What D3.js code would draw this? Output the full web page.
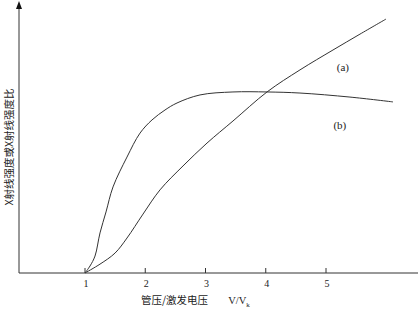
<!DOCTYPE html>
<html>
<head>
<meta charset="utf-8">
<script src="https://cdn.jsdelivr.net/npm/d3@7"></script>
<style>
  html, body { margin: 0; padding: 0; background: #fff; }
  #root { width: 418px; height: 310px; }
  text { fill: #222; }
  .num { font-family: "Liberation Serif", "DejaVu Serif", serif; }
  .cjk { font-family: "Noto Sans CJK SC", sans-serif; }
</style>
</head>
<body>
<div id="root"></div>
<script>
// ——— données (x en V/Vk, y en unités arbitraires 0–100)
const tickValues = [1, 2, 3, 4, 5];
const seriesNames = ["(a)", "(b)"];

const curveAx = [1.000, 1.249, 1.498, 1.697, 1.963, 2.245, 2.627, 3.025, 3.456, 4.021, 4.568, 5.116, 5.564, 5.996];
const curveAy = [0, 3.3, 7.4, 13.0, 21.9, 30.9, 39.8, 48.3, 56.5, 67.3, 75.5, 82.9, 88.8, 94.4];

const curveBx = [1.000, 1.083, 1.166, 1.249, 1.349, 1.465, 1.697, 1.913, 2.112, 2.328, 2.527, 2.909, 3.456, 4.021, 4.568, 5.398, 6.112];
const curveBy = [0, 2.6, 6.3, 14.9, 22.7, 32.0, 43.1, 52.0, 56.9, 60.6, 63.2, 66.2, 67.3, 67.3, 66.9, 65.4, 63.6];

const labelPos = [[5.28, 75.1], [5.23, 53.5]]; // position des étiquettes (a), (b)

const root = d3.select("#root");
const width = 418, height = 310;
const margin = { top: 4, right: 0, bottom: 37, left: 19 };
const innerW = width - margin.left - margin.right;
const innerH = height - margin.top - margin.bottom;

const svg = root.append("svg").attr("width", width).attr("height", height);
const g = svg.append("g").attr("transform", `translate(${margin.left},${margin.top})`);

// échelles : 1 → 66 px, 5 → 307 px
const x = d3.scaleLinear().domain([1, 5]).range([66, 307]);
const y = d3.scaleLinear().domain([0, 100]).range([innerH, 0]);

// axe X
const xAxis = g.append("g").attr("transform", `translate(0,${innerH})`);
xAxis.append("line")
  .attr("x1", 0).attr("x2", innerW)
  .attr("stroke", "#333").attr("stroke-width", 1);
xAxis.selectAll(".tick")
  .data(tickValues)
  .enter()
  .append("line")
  .attr("x1", d => x(d)).attr("x2", d => x(d))
  .attr("y1", 0).attr("y2", -5)
  .attr("stroke", "#333");
xAxis.selectAll(".tl")
  .data(tickValues)
  .enter()
  .append("text")
  .attr("class", "num")
  .attr("x", d => x(d) + 1)
  .attr("y", 14)
  .attr("text-anchor", "middle")
  .attr("font-size", 10)
  .text(d => d);

// axe Y avec flèche
g.append("line")
  .attr("x1", 0).attr("x2", 0)
  .attr("y1", innerH).attr("y2", 3)
  .attr("stroke", "#333").attr("stroke-width", 1);
g.append("path")
  .attr("d", "M0,-3L-3,5L3,5Z")
  .attr("fill", "#111");

// courbes
const line = d3.line()
  .x(d => x(d[0]))
  .y(d => y(d[1]))
  .curve(d3.curveCatmullRom.alpha(0.5));

const curves = [
  d3.zip(curveAx, curveAy),
  d3.zip(curveBx, curveBy)
];

g.selectAll(".curve")
  .data(curves)
  .enter()
  .append("path")
  .attr("d", line)
  .attr("fill", "none")
  .attr("stroke", "#333")
  .attr("stroke-width", 1);

// étiquettes (a) (b)
g.selectAll(".lab")
  .data(seriesNames)
  .enter()
  .append("text")
  .attr("class", "num")
  .attr("x", (d, i) => x(labelPos[i][0]))
  .attr("y", (d, i) => y(labelPos[i][1]))
  .attr("text-anchor", "middle")
  .attr("font-size", 11)
  .text(d => d);

// titre X
const xt = svg.append("text")
  .attr("x", 141).attr("y", 304)
  .attr("font-size", 10.5);
xt.append("tspan").attr("class", "cjk").text("管压/激发电压");
xt.append("tspan").attr("class", "num").attr("dx", 20).text("V/V");
xt.append("tspan").attr("class", "num").attr("font-size", 7).attr("dy", 3).text("k");

// titre Y
svg.append("text")
  .attr("transform", "translate(13,147) rotate(-90)")
  .attr("text-anchor", "middle")
  .attr("font-size", 10.5)
  .attr("class", "cjk")
  .text("X射线强度或X射线强度比");
</script>
</body>
</html>
